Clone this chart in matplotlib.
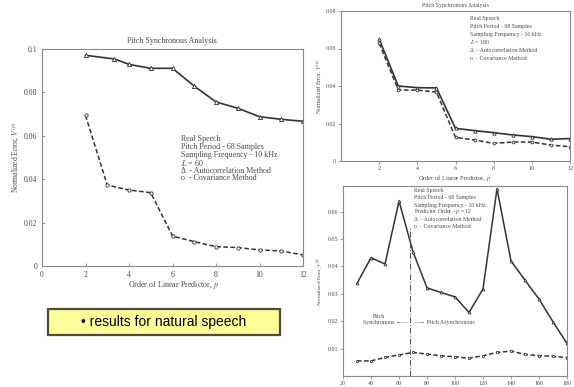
import matplotlib
matplotlib.use("Agg")
import matplotlib.pyplot as plt
from matplotlib.patches import Rectangle

# --- data ---
# left: pitch synchronous, L = 60
l_auto_p = [2, 3.33, 4, 5, 6, 7, 8, 9, 10, 11, 12]
l_auto_e = [0.0971, 0.0954, 0.0929, 0.0911, 0.0911, 0.0829, 0.0756, 0.0727, 0.0688, 0.0676, 0.0667]
l_cov_p = [2, 3, 4, 5, 6, 7, 8, 9, 10, 11, 12]
l_cov_e = [0.0694, 0.0373, 0.0350, 0.0338, 0.0138, 0.0112, 0.0089, 0.0085, 0.0074, 0.0069, 0.0051]

# top right: pitch synchronous, L = 180
r_p = [2, 3, 4, 5, 6, 7, 8, 9, 10, 11, 12]
r_auto_e = [0.0650, 0.0400, 0.0391, 0.0390, 0.0174, 0.0162, 0.0151, 0.0139, 0.0130, 0.0116, 0.0120]
r_cov_e = [0.0628, 0.0379, 0.0378, 0.0368, 0.0126, 0.0112, 0.0094, 0.0101, 0.0101, 0.0085, 0.0076]

# bottom right: error vs frame length, p = 12
b_len = [30, 40, 50, 60, 70, 80, 90, 100, 110, 120, 130, 140, 150, 160, 170, 180]
b_auto_e = [0.0338, 0.0432, 0.0409, 0.0639, 0.0454, 0.0322, 0.0305, 0.0289, 0.0232, 0.0318,
            0.0684, 0.0420, 0.0350, 0.0281, 0.0198, 0.0119]
b_cov_e = [0.0055, 0.0055, 0.0068, 0.0077, 0.0086, 0.0080, 0.0074, 0.0070, 0.0065, 0.0074,
           0.0086, 0.0091, 0.0079, 0.0074, 0.0072, 0.0067]
pitch_period = 68

W, H = 574, 387
SERIF = ["Liberation Serif", "DejaVu Serif"]
TXT = "#4a4a4a"
LINE = "#333333"
SPINE = "#8a8a8a"

plt.rcParams["font.family"] = SERIF
plt.rcParams["mathtext.fontset"] = "stix"

fig = plt.figure(figsize=(W / 100, H / 100), dpi=100)


def px_axes(x0, y0, x1, y1):
    # pixel box (top-left origin) -> axes
    return fig.add_axes([x0 / W, 1 - y1 / H, (x1 - x0) / W, (y1 - y0) / H])


def ftext(x, y, s, size, **kw):
    kw.setdefault("color", TXT)
    return fig.text(x / W, 1 - y / H, s, fontsize=size, **kw)


def style(ax, size, tdir, pad):
    for sp in ax.spines.values():
        sp.set_color(SPINE)
        sp.set_linewidth(0.8)
    ax.tick_params(direction=tdir, length=2, width=0.6, color=SPINE,
                   labelsize=size, labelcolor=TXT, pad=pad)


def legend_block(x, ys, lines, size):
    for y, s in zip(ys, lines):
        ftext(x, y, s, size, va="center", ha="left")


auto_kw = dict(color=LINE, lw=1.2, marker="^", ms=3, mfc="white", mec=LINE, mew=0.6)
cov_kw = dict(color=LINE, lw=1.1, ls=(0, (3, 1.6)), marker="o", ms=2.4, mfc="white", mec=LINE, mew=0.6)

# ---------------- left panel ----------------
ax1 = px_axes(42, 49, 303, 266)
ax1.plot(l_auto_p, l_auto_e, **auto_kw)
ax1.plot(l_cov_p, l_cov_e, **cov_kw)
ax1.set_xlim(0, 12)
ax1.set_ylim(0, 0.1)
ax1.set_xticks([0, 2, 4, 6, 8, 10, 12])
ax1.set_yticks([0, 0.02, 0.04, 0.06, 0.08, 0.1])
ax1.set_yticklabels(["0", "0.02", "0.04", "0.06", "0.08", "0.1"])
style(ax1, 5.6, "in", 3.5)
ftext(172, 41, "Pitch Synchronous Analysis", 5.8, ha="center", va="center")
ftext(174, 285, "Order of Linear Predictor, $p$", 5.8, ha="center", va="center")
ftext(15, 157, "Normalized Error, $V^{(p)}$", 5.5, ha="center", va="center", rotation=90)
legend_block(181, [139.3, 147.3, 155, 162.7, 170.7, 178.3],
             ["Real Speech", "Pitch Period - 68 Samples", "Sampling Frequency - 10 kHz",
              "$L$ = 60", "Δ  - Autocorrelation Method", "o  - Covariance Method"], 5.8)

# ---------------- top right panel ----------------
ax2 = px_axes(341, 11, 570, 161)
ax2.plot(r_p, r_auto_e, **dict(auto_kw, ms=2.4))
ax2.plot(r_p, r_cov_e, **dict(cov_kw, ms=2))
ax2.set_xlim(0, 12)
ax2.set_ylim(0, 0.08)
ax2.set_xticks([2, 4, 6, 8, 10, 12])
ax2.set_yticks([0, 0.02, 0.04, 0.06, 0.08])
ax2.set_yticklabels(["0", "0.02", "0.04", "0.06", "0.08"])
style(ax2, 4.3, "out", 1.5)
ftext(455, 5, "Pitch Synchronous Analysis", 4.2, ha="center", va="center")
ftext(455, 178, "Order of Linear Predictor, $p$", 4.6, ha="center", va="center")
ftext(320, 86, "Normalized Error, $V^{(p)}$", 4.2, ha="center", va="center", rotation=90)
legend_block(470, [18.3, 26.7, 34.3, 42.3, 50, 58],
             ["Real Speech", "Pitch Period - 68 Samples", "Sampling Frequency - 10 kHz",
              "$L$ = 180", "Δ  - Autocorrelation Method", "o  - Covariance Method"], 4.2)

# ---------------- bottom right panel ----------------
ax3 = px_axes(343, 186, 567, 376)
ax3.plot(b_len, b_auto_e, **dict(auto_kw, ms=2, lw=1.1))
ax3.plot(b_len, b_cov_e, **dict(cov_kw, ms=1.6))
ax3.axvline(pitch_period, ymax=0.78, color="#555555", lw=0.7, ls=(0, (6, 2, 1, 2)))
ax3.set_xlim(20, 180)
ax3.set_ylim(0, 0.0694)
ax3.set_xticks([20, 40, 60, 80, 100, 120, 140, 160, 180])
ax3.set_yticks([0.01, 0.02, 0.03, 0.04, 0.05, 0.06])
ax3.set_yticklabels(["0.01", "0.02", "0.03", "0.04", "0.05", "0.06"])
style(ax3, 4.3, "out", 1.5)
ftext(320, 281, "Normalized Error, $V^{(p)}$", 3.8, ha="center", va="center", rotation=90)
legend_block(414, [190, 197.5, 205, 212, 219.5, 227],
             ["Real Speech", "Pitch Period - 68 Samples", "Sampling Frequency - 10 kHz",
              "Predictor Order - $p$ = 12", "Δ  - Autocorrelation Method", "o  - Covariance Method"], 4.2)
ax3.text(46, 0.0218, "Pitch", fontsize=4.3, color=TXT, ha="center", va="center")
ax3.text(66, 0.0196, "Synchronous ←—", fontsize=4.3, color=TXT, ha="right", va="center",
         family=SERIF + ["DejaVu Sans"])
ax3.text(70, 0.0196, "—→ Pitch Asynchronous", fontsize=4.3, color=TXT, ha="left", va="center",
         family=SERIF + ["DejaVu Sans"])

# ---------------- yellow note box ----------------
fig.patches.append(Rectangle((48 / W, 1 - 335 / H), 232 / W, 26 / H, transform=fig.transFigure,
                             facecolor="#ffff99", edgecolor="#4d4d3a", lw=1.6))
fig.text(164 / W, 1 - 322 / H, "• results for natural speech", fontsize=10,
         family=["Liberation Sans", "DejaVu Sans"], color="black", ha="center", va="center")

fig.savefig("out.png", dpi=100)
